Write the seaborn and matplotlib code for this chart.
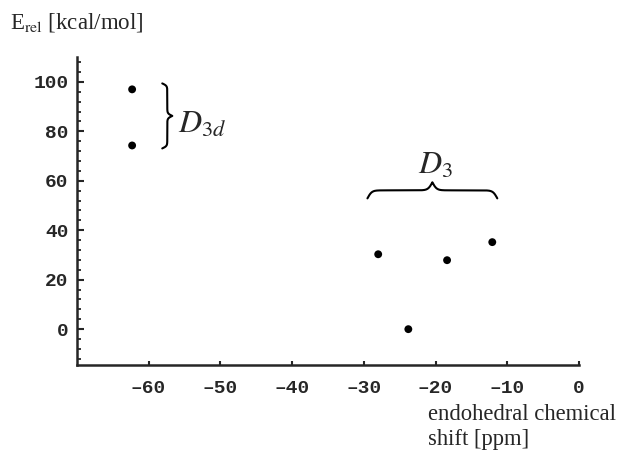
import numpy as np
import pandas as pd
import matplotlib
matplotlib.use("Agg")
import matplotlib.pyplot as plt
from matplotlib.ticker import MultipleLocator
import seaborn as sns

# data
shift_ppm = [-62.3, -62.3, -28.0, -23.8, -18.4, -12.1]
e_rel = [97.0, 74.3, 30.3, 0.0, 27.9, 35.2]
group = ['D3d', 'D3d', 'D3', 'D3', 'D3', 'D3']
x_ticks = [-60, -50, -40, -30, -20, -10, 0]
y_ticks = [0, 20, 40, 60, 80, 100]

df = pd.DataFrame({'shift': shift_ppm, 'erel': e_rel, 'group': group})

sns.set_style("ticks")
plt.rcParams['font.family'] = ['Liberation Serif', 'DejaVu Serif']
plt.rcParams['mathtext.fontset'] = 'stix'


def brace(ax, a0, a1, base, h, horizontal=True, sharp=60, lw=1.5):
    # curly brace drawn from two sigmoids, tip in the middle
    t = np.linspace(a0, a1, 401)
    half = t[:201]
    beta = sharp / (a1 - a0)
    yh = (1 / (1 + np.exp(-beta * (half - half[0])))
          + 1 / (1 + np.exp(-beta * (half - half[-1]))))
    yb = np.concatenate([yh, yh[-2::-1]])
    off = base + (yb - 0.5) * h
    if horizontal:
        ax.plot(t, off, color='black', lw=lw, solid_capstyle='round')
    else:
        ax.plot(off, t, color='black', lw=lw, solid_capstyle='round')


fig = plt.figure(figsize=(6.2, 4.54), dpi=100)
ax = fig.add_axes([0.124, 0.196, 0.810, 0.678])

sns.scatterplot(data=df, x='shift', y='erel', color='black', s=32,
                edgecolor='none', legend=False, ax=ax)

ax.set_xlim(-70, 0)
ax.set_ylim(-14.5, 110)
ax.set_xticks(x_ticks)
ax.set_yticks(y_ticks)
ax.set_xticklabels([f'{v}'.replace('-', '\u2013') for v in x_ticks])
ax.set_yticklabels([str(v) for v in y_ticks])
ax.yaxis.set_minor_locator(MultipleLocator(4))

for lab in ax.get_xticklabels() + ax.get_yticklabels():
    lab.set_family('Liberation Mono')
    lab.set_weight('bold')
    lab.set_fontsize(14)

ax.tick_params(axis='y', which='major', direction='in', length=5, width=1.5, pad=6)
ax.tick_params(axis='y', which='minor', direction='in', length=3, width=1.3)
ax.tick_params(axis='x', which='major', direction='in', length=3, width=1.5, pad=11)

sns.despine(ax=ax)
for sp in ['left', 'bottom']:
    ax.spines[sp].set_linewidth(1.8)
ax.set_xlabel('')
ax.set_ylabel('')

# group braces and labels
brace(ax, 73.1, 99.4, -58.1, 1.4, horizontal=False, sharp=55)
ax.text(-55.9, 79.6, r'$D_{3d}$', fontsize=23, ha='left', va='baseline')
brace(ax, -29.5, -11.4, 52.9, 6.5, horizontal=True, sharp=60)
ax.text(-20.0, 63.0, r'$D_3$', fontsize=23, ha='center', va='baseline')

fig.text(10 / 620, 1 - 28 / 454, r'E$_{\mathrm{rel}}$ [kcal/mol]',
         fontsize=16.5, ha='left', va='baseline')
fig.text(428 / 620, 1 - 420 / 454, 'endohedral chemical',
         fontsize=16.3, ha='left', va='baseline')
fig.text(428 / 620, 1 - 445 / 454, 'shift [ppm]',
         fontsize=16.3, ha='left', va='baseline')

fig.savefig('out.png', dpi=100)
